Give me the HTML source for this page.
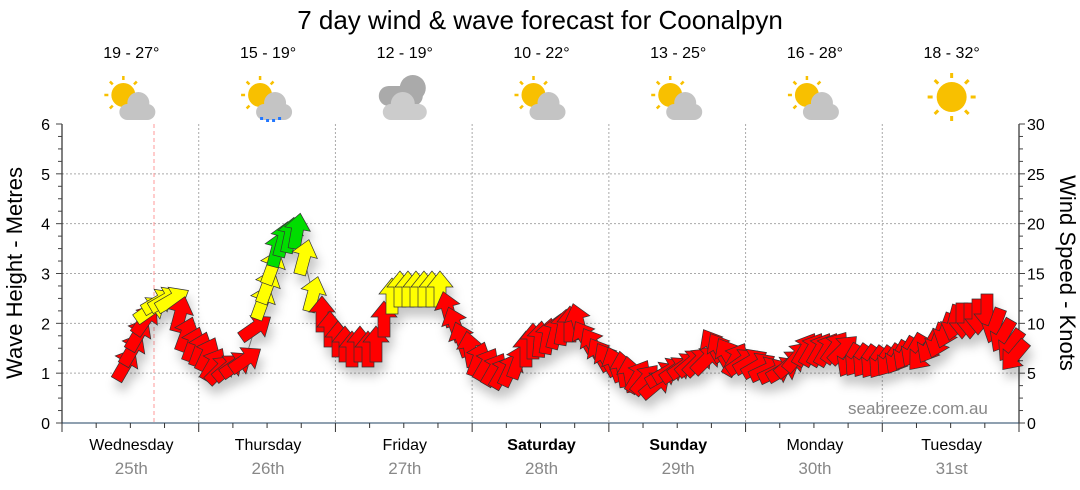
<!DOCTYPE html>
<html><head><meta charset="utf-8"><style>
body{margin:0;background:#fff;}
svg{display:block;font-family:"Liberation Sans",sans-serif;}
</style></head><body>
<svg id="s" width="1080" height="490" xmlns="http://www.w3.org/2000/svg">
<defs>
<filter id="sh" x="-50%" y="-50%" width="200%" height="200%"><feDropShadow dx="3" dy="9" stdDeviation="5" flood-color="#000" flood-opacity="0.22"/></filter>
</defs>
<text x="540" y="29" font-size="26" text-anchor="middle" fill="#000">7 day wind &amp; wave forecast for Coonalpyn</text>
<g id="g"></g>
<text x="848" y="414" font-size="17" fill="#888">seabreeze.com.au</text>
<text transform="translate(22,273) rotate(-90)" font-size="22" text-anchor="middle">Wave Height - Metres</text>
<text transform="translate(1060,273) rotate(90)" font-size="22" text-anchor="middle">Wind Speed - Knots</text>
</svg>
<script>
var NS="http://www.w3.org/2000/svg",g=document.getElementById('g');
function el(t,a,txt){var e=document.createElementNS(NS,t);for(var k in a)e.setAttribute(k,a[k]);if(txt!==undefined)e.textContent=txt;g.appendChild(e);return e;}
var L=62,R=1019,T=124,B=423,dw=(R-L)/7;
for(var i=1;i<=5;i++){var y=B-i*(B-T)/6;el('line',{x1:L,x2:R,y1:y,y2:y,stroke:'#aaa','stroke-dasharray':'2,2','stroke-width':1});}
for(var d=1;d<7;d++){var x=L+d*dw;el('line',{x1:x,x2:x,y1:T,y2:B,stroke:'#aaa','stroke-dasharray':'2,2'});}
el('line',{x1:154,x2:154,y1:T,y2:B,stroke:'#f99','stroke-dasharray':'4,3'});
el('line',{x1:L,x2:L,y1:T,y2:B,stroke:'#000'});
el('line',{x1:R,x2:R,y1:T,y2:B,stroke:'#000'});
el('line',{x1:L,x2:R,y1:B,y2:B,stroke:'#1f4060'});
for(var i=0;i<=24;i++){var y=B-i*(B-T)/24,m=i%4==0;
el('line',{x1:L-(m?6:4),x2:L,y1:y,y2:y,stroke:'#444'});
el('line',{x1:R,x2:R+(m?6:4),y1:y,y2:y,stroke:'#444'});
if(m){el('text',{x:50,y:y+6,'font-size':16,'text-anchor':'end'},i/4);
el('text',{x:1027,y:y+6,'font-size':16},i/4*5);}}
for(var i=0;i<=28;i++){var x=L+i*dw/4;el('line',{x1:x,x2:x,y1:B,y2:B+(i%4==0?9:5),stroke:'#333'});}
var days=['Wednesday','Thursday','Friday','Saturday','Sunday','Monday','Tuesday'],dt=['25th','26th','27th','28th','29th','30th','31st'],
temps=['19 - 27°','15 - 19°','12 - 19°','10 - 22°','13 - 25°','16 - 28°','18 - 32°'];
for(var d=0;d<7;d++){var cx=L+(d+0.5)*dw+1;
el('text',{x:cx,y:450,'font-size':16,'text-anchor':'middle','font-weight':(d==3||d==4)?'bold':'normal'},days[d]);
el('text',{x:cx,y:474,'font-size':17,'text-anchor':'middle',fill:'#888'},dt[d]);
el('text',{x:cx,y:58,'font-size':16,'text-anchor':'middle'},temps[d]);
if(d==6){for(var a=0;a<8;a++){var an=a*Math.PI/4;el('line',{x1:cx+Math.cos(an)*19,y1:97+Math.sin(an)*19,x2:cx+Math.cos(an)*24,y2:97+Math.sin(an)*24,stroke:'#f8c000','stroke-width':3});}
el('circle',{cx:cx,cy:97,r:15,fill:'#f8c000'});}
else if(d==2){el('circle',{cx:cx+8,cy:88,r:13,fill:'#aaa'});el('rect',{x:cx-26,y:86,width:44,height:20,rx:10,fill:'#aaa'});
el('circle',{cx:cx-2,cy:104,r:12,fill:'#ccc'});el('rect',{x:cx-22,y:104,width:44,height:16,rx:8,fill:'#ccc'});}
else{var sx=cx-8,sy=95;for(var a=0;a<8;a++){var an=a*Math.PI/4;el('line',{x1:sx+Math.cos(an)*15,y1:sy+Math.sin(an)*15,x2:sx+Math.cos(an)*19,y2:sy+Math.sin(an)*19,stroke:'#f8c000','stroke-width':2.5});}
el('circle',{cx:sx,cy:sy,r:12,fill:'#f8c000'});
el('circle',{cx:cx+7,cy:103,r:11,fill:'#c4c4c4'});el('rect',{x:cx-12,y:104,width:36,height:16,rx:8,fill:'#c4c4c4'});
if(d==1){[-6,0,6,12].forEach(function(o,k){el('rect',{x:cx+o-2,y:117+(k%3?2:0),width:3,height:3,fill:'#2277ff'});});}}
}
var A=[[125,365,30,'r'],[132,350,30,'r'],[138,335,30,'r'],[145,320,35,'r'],[150,310,55,'y'],[158,302,60,'y'],[165,300,60,'y'],[172,300,60,'y'],
[180,315,15,'r'],[186,335,20,'r'],[193,345,20,'r'],[200,350,20,'r'],[207,355,25,'r'],[213,365,30,'r'],[220,370,45,'r'],[228,368,50,'r'],[236,365,55,'r'],[245,360,55,'r'],[255,328,55,'r'],
[262,303,20,'y'],[267,287,20,'y'],[272,268,20,'y'],[277,250,15,'g'],[283,240,15,'g'],[290,236,12,'g'],[297,232,10,'g'],[304,258,15,'y'],[313,295,15,'y'],
[322,315,0,'r'],[330,330,0,'r'],[338,340,0,'r'],[345,345,0,'r'],[352,350,0,'r'],[360,345,0,'r'],[368,350,0,'r'],[376,345,0,'r'],[384,320,0,'r'],
[392,297,0,'y'],[400,290,0,'y'],[408,290,0,'y'],[416,290,0,'y'],[424,290,0,'y'],[432,290,0,'y'],[440,290,0,'y'],
[448,310,-15,'r'],[455,325,-20,'r'],[462,340,-20,'r'],[470,350,-10,'r'],[478,360,20,'r'],[486,365,30,'r'],[494,370,30,'r'],[502,373,30,'r'],[510,370,25,'r'],[518,362,20,'r'],
[526,350,0,'r'],[533,342,0,'r'],[540,340,5,'r'],[548,337,10,'r'],[556,332,15,'r'],[563,328,10,'r'],[570,325,0,'r'],[578,322,-15,'r'],
[585,338,-30,'r'],[593,345,-30,'r'],[600,355,-30,'r'],[607,360,-30,'r'],[615,365,-20,'r'],[623,370,-10,'r'],[630,375,-10,'r'],[638,377,30,'r'],[645,380,40,'r'],[655,385,50,'r'],
[662,375,60,'r'],[669,371,60,'r'],[676,370,55,'r'],[684,366,55,'r'],[691,363,50,'r'],[698,362,45,'r'],[706,360,45,'r'],[713,346,-30,'r'],[720,350,-30,'r'],[728,355,-30,'r'],
[735,360,30,'r'],[742,362,55,'r'],[750,362,60,'r'],[758,366,60,'r'],[766,370,65,'r'],[775,372,65,'r'],[783,370,60,'r'],[790,364,50,'r'],[797,357,40,'r'],[805,350,30,'r'],
[812,350,30,'r'],[820,350,30,'r'],[827,350,30,'r'],[835,348,35,'r'],[843,350,45,'r'],[850,360,210,'r'],[858,360,215,'r'],[866,361,215,'r'],[874,362,215,'r'],[882,362,215,'r'],
[890,360,215,'r'],[898,357,210,'r'],[906,353,210,'r'],[914,350,210,'r'],[922,355,220,'r'],[930,346,210,'r'],[938,340,200,'r'],[946,330,200,'r'],[954,322,195,'r'],
[962,320,180,'r'],[970,320,180,'r'],[978,316,180,'r'],[987,311,180,'r'],[995,325,200,'r'],[1003,335,210,'r'],[1011,345,215,'r'],[1015,355,220,'r']];
var col={r:'#ff0000',y:'#ffff00',g:'#00dd00'};
var pts=A.map(function(a){return a[0]+','+a[1];}).join(' ');
el('polyline',{points:pts,fill:'none',stroke:'#888','stroke-width':1});
var gg=el('g',{filter:'url(#sh)'});
A.forEach(function(a){var p=document.createElementNS(NS,'polygon');
p.setAttribute('points','0,-19 -13,-3 -6,-3 -6,17 6,17 6,-3 13,-3');
p.setAttribute('transform','translate('+a[0]+','+a[1]+') rotate('+a[2]+')');
p.setAttribute('fill',col[a[3]]);p.setAttribute('stroke','#333');p.setAttribute('stroke-width','0.7');gg.appendChild(p);});
</script>
</body></html>
